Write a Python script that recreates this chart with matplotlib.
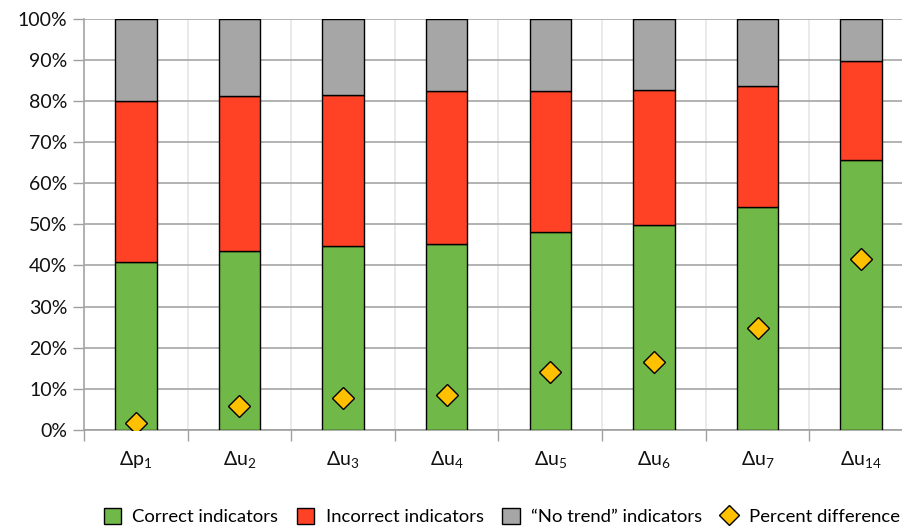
import matplotlib
matplotlib.use("Agg")
import matplotlib.pyplot as plt
from matplotlib.lines import Line2D
from matplotlib.patches import Patch
from matplotlib.ticker import PercentFormatter, MultipleLocator
import numpy as np

plt.rcParams['font.family'] = ['Lato', 'DejaVu Sans']
plt.rcParams['mathtext.fontset'] = 'custom'
plt.rcParams['mathtext.rm'] = 'Lato'

categories = ['Δp$_\\mathregular{1}$', 'Δu$_\\mathregular{2}$', 'Δu$_\\mathregular{3}$', 'Δu$_\\mathregular{4}$',
              'Δu$_\\mathregular{5}$', 'Δu$_\\mathregular{6}$', 'Δu$_\\mathregular{7}$', 'Δu$_\\mathregular{14}$']
correct = [40.8, 43.6, 44.7, 45.3, 48.1, 49.8, 54.1, 65.6]
incorrect = [39.1, 37.6, 36.8, 37.1, 34.3, 32.8, 29.4, 24.1]
no_trend = [20.1, 18.8, 18.5, 17.6, 17.6, 17.4, 16.5, 10.3]
pct_diff = [1.7, 5.9, 7.9, 8.5, 14.1, 16.6, 24.9, 41.5]

c_green = '#70B847'
c_red = '#FF4125'
c_gray = '#A6A6A6'
c_gold = '#FFC000'

fig = plt.figure(figsize=(9.03, 5.29), dpi=100)
ax = fig.add_axes([0.093, 0.187, 0.918, 0.778])

x = np.arange(len(categories))
w = 0.4
correct_a = np.array(correct)
incorrect_a = np.array(incorrect)
ax.bar(x, correct_a, w, color=c_green, edgecolor='black', linewidth=1, zorder=3)
ax.bar(x, incorrect_a, w, bottom=correct_a, color=c_red, edgecolor='black', linewidth=1, zorder=3)
ax.bar(x, no_trend, w, bottom=correct_a + incorrect_a, color=c_gray, edgecolor='black', linewidth=1, zorder=3)
ax.plot(x, pct_diff, linestyle='none', marker='D', markersize=11.5,
        markerfacecolor=c_gold, markeredgecolor='black', markeredgewidth=1, zorder=4)

ax.set_xlim(-0.5, len(categories) - 0.5)
ax.set_ylim(0, 100)
ax.yaxis.set_major_locator(MultipleLocator(10))
ax.yaxis.set_major_formatter(PercentFormatter(decimals=0))

# category labels sit between boundary ticks
ax.set_xticks(x)
ax.set_xticklabels(categories)
ax.set_xticks(np.arange(-0.5, len(categories)), minor=True)
ax.tick_params(axis='x', which='major', length=0, pad=14, labelsize=14, labelcolor='#111111')
ax.tick_params(axis='x', which='minor', length=8, width=1, color='#a0a0a0')
ax.tick_params(axis='y', length=8, width=1, color='#a0a0a0', labelsize=14, labelcolor='#111111', pad=4)

ax.grid(axis='y', which='major', color='#a6a6a6', linewidth=1.2, zorder=0)
ax.grid(axis='x', which='minor', color='#e6e6e6', linewidth=1.2, zorder=0)

for s in ['top', 'right']:
    ax.spines[s].set_visible(False)
ax.spines['left'].set_color('#a6a6a6')
ax.spines['bottom'].set_color('#a0a0a0')
ax.spines['left'].set_linewidth(1.2)
ax.spines['bottom'].set_linewidth(1.2)

handles = [
    Patch(facecolor=c_green, edgecolor='black', linewidth=1, label='Correct indicators'),
    Patch(facecolor=c_red, edgecolor='black', linewidth=1, label='Incorrect indicators'),
    Patch(facecolor=c_gray, edgecolor='black', linewidth=1, label='\u201cNo trend\u201d indicators'),
    Line2D([], [], linestyle='none', marker='D', markersize=10, markerfacecolor=c_gold,
           markeredgecolor='black', markeredgewidth=1, label='Percent difference'),
]
fig.legend(handles=handles, loc='center left', bbox_to_anchor=(0.115, 0.024), ncol=4,
           frameon=False, fontsize=13.3, handlelength=0.95, handleheight=0.95,
           handletextpad=0.6, columnspacing=1.0, borderaxespad=0, borderpad=0)

fig.savefig('out.png', dpi=100)
